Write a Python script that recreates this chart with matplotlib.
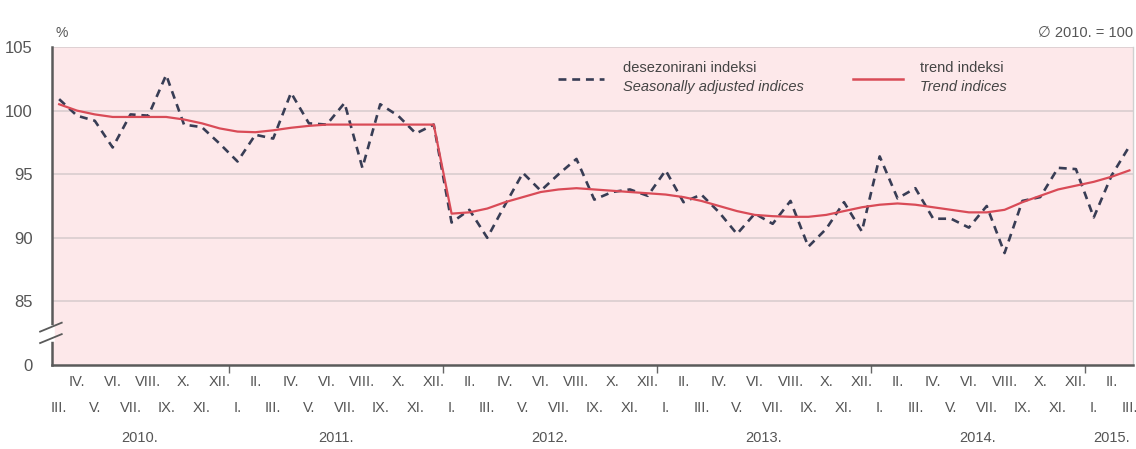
import matplotlib
matplotlib.use("Agg")
import matplotlib.pyplot as plt
import matplotlib.transforms as mtransforms

plt.rcParams['font.family'] = ['Liberation Sans', 'DejaVu Sans']

roman = ['I.', 'II.', 'III.', 'IV.', 'V.', 'VI.', 'VII.', 'VIII.', 'IX.', 'X.', 'XI.', 'XII.']
years = ['2010.', '2011.', '2012.', '2013.', '2014.', '2015.']
months_per_year = [10, 12, 12, 12, 12, 3]
# series runs from III 2010 to III 2015
month_labels = roman[2:] + roman * 4 + roman[:3]

seasonal = [100.9, 99.6, 99.2, 97.1, 99.7, 99.6, 102.8, 98.9, 98.7, 97.4,
            96.0, 98.1, 97.8, 101.4, 99.0, 98.9, 100.6, 95.5, 100.5, 99.6, 98.2, 98.9,
            91.2, 92.2, 90.0, 92.6, 95.1, 93.7, 95.0, 96.2, 93.0, 93.6, 93.8, 93.3,
            95.3, 92.8, 93.4, 92.0, 90.3, 91.9, 91.1, 92.9, 89.3, 90.7, 92.8, 90.5,
            96.4, 93.1, 93.9, 91.5, 91.5, 90.8, 92.5, 88.8, 92.9, 93.2, 95.5, 95.4,
            91.6, 94.9, 97.2]
trend = [100.5, 100.0, 99.7, 99.5, 99.5, 99.5, 99.5, 99.3, 99.0, 98.6,
         98.35, 98.3, 98.45, 98.65, 98.8, 98.9, 98.9, 98.9, 98.9, 98.9, 98.9, 98.9,
         91.9, 92.0, 92.3, 92.8, 93.2, 93.6, 93.8, 93.9, 93.8, 93.7, 93.6, 93.5,
         93.4, 93.2, 92.9, 92.5, 92.1, 91.8, 91.7, 91.65, 91.65, 91.8, 92.1, 92.4,
         92.6, 92.7, 92.6, 92.4, 92.2, 92.0, 92.0, 92.2, 92.8, 93.3, 93.8, 94.1,
         94.4, 94.8, 95.3]

yticks = [80, 85, 90, 95, 100, 105]
ytick_labels = ['0', '85', '90', '95', '100', '105']

text_col = '#555555'
pink = '#fde8ea'
red = '#d94b57'
navy = '#383d55'

fig = plt.figure(figsize=(11.36, 4.49), dpi=100)
ax = fig.add_axes([52 / 1136, 1 - 365 / 449, 1081 / 1136, 318 / 449])
ax.set_facecolor(pink)

x = list(range(len(seasonal)))
ax.plot(x, seasonal, color=navy, lw=1.9, dashes=(3, 2.2), zorder=3)
ax.plot(x, trend, color=red, lw=1.6, zorder=4)

ax.set_xlim(-0.4, 60.2)
ax.set_ylim(80, 105)
ax.set_yticks(yticks)
ax.set_yticklabels(ytick_labels)
for v in yticks[1:]:
    ax.axhline(v, color='#dccfd1', lw=1.3, zorder=1)

# month labels in two staggered rows
ax.set_xticks([])
row1 = mtransforms.offset_copy(ax.get_xaxis_transform(), fig=fig, y=-17, units='dots')
row2 = mtransforms.offset_copy(ax.get_xaxis_transform(), fig=fig, y=-43, units='dots')
for i, lab in enumerate(month_labels):
    tr = row1 if i % 2 else row2
    ax.text(i, 0, lab, transform=tr, ha='center', va='center', fontsize=10.5, color=text_col)

ax.tick_params(axis='y', length=0, pad=14, labelsize=12, labelcolor=text_col)

# year separators
bounds = []
start = 0
centres = []
for n in months_per_year:
    centres.append(start + (n - 1) / 2)
    start += n
    bounds.append(start - 0.5)
ax.set_xticks(bounds[:-1], minor=True)
ax.tick_params(axis='x', which='minor', length=6, width=1, color='#666666', direction='out')

yr_trans = mtransforms.offset_copy(ax.get_xaxis_transform(), fig=fig, y=-73, units='dots')
for c, yr in zip(centres, years):
    ax.text(c, 0, yr, transform=yr_trans, ha='center', va='center', fontsize=10.5, color=text_col)

ax.spines['top'].set_visible(False)
ax.spines['right'].set_color('#d0d0d0')
ax.spines['right'].set_linewidth(1)
ax.spines['left'].set_color('#5a5a5a')
ax.spines['left'].set_linewidth(1.8)
ax.spines['bottom'].set_color('#5a5a5a')
ax.spines['bottom'].set_linewidth(1.8)

# axis break marks
ax.plot([0, 0], [0.082, 0.117], transform=ax.transAxes, color='white', lw=4, clip_on=False, zorder=5)
ax.plot([-0.011, 0.009], [0.105, 0.133], transform=ax.transAxes, color='#5a5a5a', lw=1.3, clip_on=False, zorder=6)
ax.plot([-0.011, 0.009], [0.069, 0.097], transform=ax.transAxes, color='#5a5a5a', lw=1.3, clip_on=False, zorder=6)

# legend
ax.plot([0.468, 0.511], [0.90, 0.90], transform=ax.transAxes, color=navy, lw=1.9, dashes=(3, 2.2), zorder=6)
ax.text(0.528, 0.935, 'desezonirani indeksi', transform=ax.transAxes, fontsize=10.5, color='#444444', va='center')
ax.text(0.528, 0.875, 'Seasonally adjusted indices', transform=ax.transAxes, fontsize=10.5, color='#444444',
        va='center', style='italic')
ax.plot([0.741, 0.787], [0.90, 0.90], transform=ax.transAxes, color=red, lw=1.8, zorder=6)
ax.text(0.803, 0.935, 'trend indeksi', transform=ax.transAxes, fontsize=10.5, color='#444444', va='center')
ax.text(0.803, 0.875, 'Trend indices', transform=ax.transAxes, fontsize=10.5, color='#444444',
        va='center', style='italic')

fig.text(55 / 1136, 1 - 33 / 449, '%', fontsize=10, color=text_col, va='center', ha='left')
fig.text(1133 / 1136, 1 - 33 / 449, '\u2205 2010. = 100', fontsize=10.5, color=text_col, va='center', ha='right')

fig.savefig('out.png', dpi=100)
